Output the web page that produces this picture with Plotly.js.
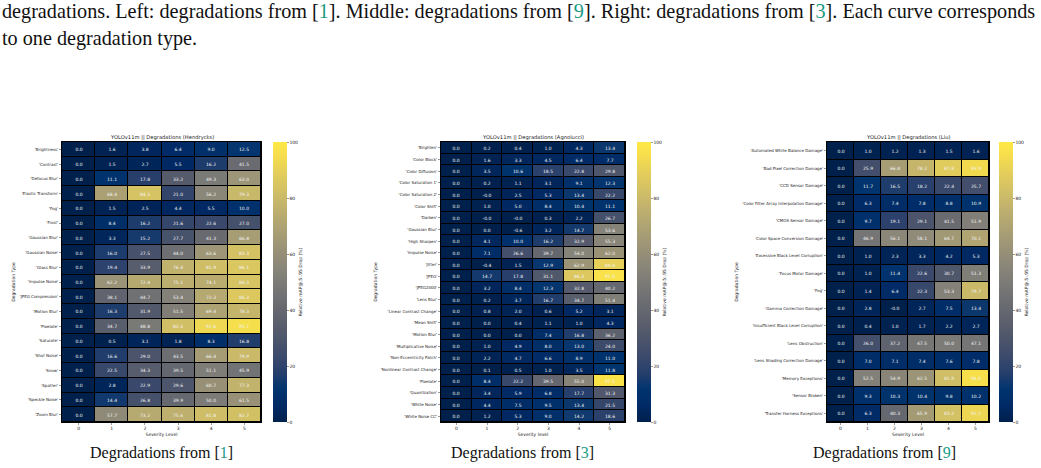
<!DOCTYPE html>
<html>
<head>
<meta charset="utf-8">
<script src="https://cdn.plot.ly/plotly-3.0.1.min.js"></script>
<style>
  html, body { margin: 0; padding: 0; background: #fff; }
  #chart { width: 1041px; height: 468px; }
</style>
</head>
<body>
<div id="chart"></div>
<script>
// Severity levels shared by all three panels
const severity = [0, 1, 2, 3, 4, 5];

// Hendrycks degradations: relative mAP@.5:.95 drop (%) per severity level
const hendrycksTypes = ["'Brightness'", "'Contrast'", "'Defocus Blur'", "'Elastic Transform'", "'Fog'",
  "'Frost'", "'Gaussian Blur'", "'Gaussian Noise'", "'Glass Blur'", "'Impulse Noise'",
  "'JPEG Compression'", "'Motion Blur'", "'Pixelate'", "'Saturate'", "'Shot Noise'",
  "'Snow'", "'Spatter'", "'Speckle Noise'", "'Zoom Blur'"];
const hendrycksDrop = [
  [0.0, 1.6, 3.8, 6.4, 9.0, 12.5],
  [0.0, 1.5, 2.7, 5.5, 16.2, 41.5],
  [0.0, 11.1, 17.8, 33.2, 49.3, 63.0],
  [0.0, 68.4, 84.3, 21.0, 56.2, 79.3],
  [0.0, 1.5, 2.5, 4.4, 5.5, 10.0],
  [0.0, 8.4, 16.2, 21.6, 22.6, 27.0],
  [0.0, 3.3, 15.2, 27.7, 41.3, 66.8],
  [0.0, 16.0, 27.5, 44.0, 63.6, 83.3],
  [0.0, 19.4, 33.9, 76.4, 81.9, 86.1],
  [0.0, 62.2, 72.4, 75.1, 74.1, 84.3],
  [0.0, 38.1, 44.7, 53.4, 72.3, 86.3],
  [0.0, 16.3, 31.9, 51.5, 69.4, 78.3],
  [0.0, 34.7, 48.8, 82.3, 92.6, 95.7],
  [0.0, 0.5, 3.1, 1.8, 8.3, 16.8],
  [0.0, 16.6, 29.0, 43.5, 66.4, 79.9],
  [0.0, 22.5, 34.3, 39.5, 51.1, 45.9],
  [0.0, 2.8, 22.9, 29.6, 60.7, 77.3],
  [0.0, 14.4, 26.8, 39.9, 50.0, 61.5],
  [0.0, 57.7, 73.2, 75.6, 81.8, 82.7]
];

// Agnolucci degradations
const agnolucciTypes = ["'Brighten'", "'Color Block'", "'Color Diffusion'", "'Color Saturation 1'",
  "'Color Saturation 2'", "'Color Shift'", "'Darken'", "'Gaussian Blur'", "'High Sharpen'",
  "'Impulse Noise'", "'Jitter'", "'JPEG'", "'JPEG2000'", "'Lens Blur'", "'Linear Contrast Change'",
  "'Mean Shift'", "'Motion Blur'", "'Multiplicative Noise'", "'Non-Eccentricity Patch'",
  "'Nonlinear Contrast Change'", "'Pixelate'", "'Quantization'", "'White Noise'", "'White Noise CC'"];
const agnolucciDrop = [
  [0.0, 0.2, 0.4, 1.0, 4.3, 13.4],
  [0.0, 1.6, 3.3, 4.5, 6.4, 7.7],
  [0.0, 3.5, 10.6, 18.5, 22.8, 29.8],
  [0.0, 0.2, 1.1, 3.1, 9.1, 12.3],
  [0.0, -0.0, 2.5, 5.3, 13.4, 22.2],
  [0.0, 1.0, 5.0, 8.4, 10.4, 11.1],
  [0.0, -0.0, -0.0, 0.3, 2.2, 26.7],
  [0.0, 0.0, -0.6, 3.2, 14.7, 53.6],
  [0.0, 4.1, 10.0, 16.2, 32.9, 55.3],
  [0.0, 7.1, 26.6, 39.7, 54.0, 62.0],
  [0.0, -0.4, 1.5, 12.9, 62.9, 89.8],
  [0.0, 14.7, 17.8, 31.1, 86.3, 97.0],
  [0.0, 3.2, 8.4, 12.3, 32.8, 40.2],
  [0.0, 0.2, 3.7, 16.7, 34.7, 51.4],
  [0.0, 0.8, 2.0, 0.6, 5.2, 3.1],
  [0.0, 0.0, 0.4, 1.1, 1.0, 4.3],
  [0.0, 0.0, 0.0, 7.4, 16.8, 36.2],
  [0.0, 1.0, 4.9, 8.0, 13.0, 24.0],
  [0.0, 2.2, 4.7, 6.6, 8.9, 11.0],
  [0.0, 0.1, 0.5, 1.0, 3.5, 11.8],
  [0.0, 8.4, 22.2, 39.5, 55.0, 97.5],
  [0.0, 3.4, 5.9, 6.8, 17.7, 31.3],
  [0.0, 4.4, 7.5, 9.5, 13.4, 21.5],
  [0.0, 1.2, 5.3, 9.0, 14.2, 18.6]
];

// Liu degradations
const liuTypes = ["'Automated White Balance Damage'", "'Bad Pixel Correction Damage'",
  "'CCD Sensor Damage'", "'Color Filter Array Interpolation Damage'", "'CMOS Sensor Damage'",
  "'Color Space Conversion Damage'", "'Excessive Black Level Corruption'", "'Focus Motor Damage'",
  "'Fog'", "'Gamma Correction Damage'", "'Insufficient Black Level Corruption'",
  "'Lens Obstruction'", "'Lens Shading Correction Damage'", "'Memory Exceptions'",
  "'Sensor Broken'", "'Transfer Harness Exceptions'"];
const liuDrop = [
  [0.0, 1.0, 1.2, 1.3, 1.5, 1.6],
  [0.0, 25.9, 66.8, 78.2, 87.8, 93.9],
  [0.0, 11.7, 16.5, 18.2, 22.4, 25.7],
  [0.0, 6.3, 7.4, 7.8, 8.8, 10.9],
  [0.0, 9.7, 19.1, 29.1, 41.5, 51.9],
  [0.0, 46.9, 56.1, 58.1, 64.7, 70.1],
  [0.0, 1.0, 2.3, 3.3, 4.2, 5.3],
  [0.0, 1.0, 11.4, 22.6, 30.7, 51.3],
  [0.0, 1.4, 6.4, 22.3, 53.3, 79.7],
  [0.0, 2.8, -0.0, 2.7, 7.5, 13.4],
  [0.0, 0.4, 1.0, 1.7, 2.2, 2.7],
  [0.0, 26.0, 37.2, 47.5, 50.0, 47.1],
  [0.0, 7.0, 7.1, 7.4, 7.6, 7.8],
  [0.0, 52.5, 54.9, 62.5, 81.9, 96.0],
  [0.0, 9.3, 10.3, 10.4, 9.8, 10.2],
  [0.0, 6.3, 40.3, 65.9, 83.2, 92.1]
];

const panelTitles = ['YOLOv11m || Degradations (Hendrycks)', 'YOLOv11m || Degradations (Agnolucci)', 'YOLOv11m || Degradations (Liu)'];
const xTitles = ['Severity Level', 'Severity level', 'Severity Level'];
const captionRefs = ['1', '3', '9'];

const W = 1041, H = 468;
const px = v => v / W;
const py = v => 1 - v / H;
const SANS = 'DejaVu Sans, sans-serif';
const SERIF = 'Liberation Serif, Times New Roman, serif';
const TEAL = '#1a9a82';

// keep the sign of negative zero in the cell labels
const fmt = v => ((v < 0 || Object.is(v, -0)) ? '-' : '') + Math.abs(v).toFixed(1);

// pixel geometry of each panel: heatmap left/right edges, colorbar left edge
const panels = [
  { types: hendrycksTypes, drop: hendrycksDrop, x0: 62, x1: 261, cb: 273 },
  { types: agnolucciTypes, drop: agnolucciDrop, x0: 441, x1: 625, cb: 637 },
  { types: liuTypes, drop: liuDrop, x0: 827, x1: 989, cb: 999 }
];
const TOP = 142, BOTTOM = 422;

const data = [];
const layout = {
  width: W, height: H,
  margin: { l: 0, r: 0, t: 0, b: 0 },
  paper_bgcolor: '#ffffff',
  plot_bgcolor: '#000000',
  showlegend: false,
  font: { family: SANS, color: '#222' },
  annotations: []
};

panels.forEach((p, i) => {
  const s = i === 0 ? '' : String(i + 1);
  data.push({
    type: 'heatmap',
    x: severity,
    y: p.types,
    z: p.drop,
    text: p.drop.map(row => row.map(fmt)),
    texttemplate: '%{text}',
    textfont: { family: SANS, size: 4.5, color: '#f4f4f4' },
    colorscale: 'Cividis',
    zmin: 0, zmax: 100,
    xgap: 1, ygap: 1,
    hoverinfo: 'skip',
    xaxis: 'x' + s, yaxis: 'y' + s,
    colorbar: {
      thickness: 14, thicknessmode: 'pixels',
      len: BOTTOM - TOP, lenmode: 'pixels',
      x: px(p.cb), xanchor: 'left', xref: 'paper', xpad: 0,
      y: py(TOP), yanchor: 'top', yref: 'paper', ypad: 0,
      outlinewidth: 0,
      tickvals: [0, 20, 40, 60, 80, 100],
      ticks: 'outside', ticklen: 2, tickwidth: 0.5, tickcolor: '#333',
      tickfont: { family: SANS, size: 4.5, color: '#222' },
      title: { text: 'Relative mAP@.5:.95 Drop (%)', side: 'right', font: { family: SANS, size: 4.5, color: '#222' } }
    }
  });

  layout['xaxis' + s] = {
    domain: [px(p.x0), px(p.x1)],
    anchor: 'y' + s,
    range: [-0.5, 5.5],
    tickmode: 'array', tickvals: severity, ticktext: severity.map(String),
    ticks: 'outside', ticklen: 2, tickwidth: 0.5, tickcolor: '#333',
    tickfont: { family: SANS, size: 4.5, color: '#222' },
    showgrid: false, zeroline: false,
    showline: true, linecolor: '#000', linewidth: 1, mirror: true,
    automargin: false, fixedrange: true,
    title: { text: xTitles[i], font: { family: SANS, size: 4.5, color: '#222' }, standoff: 2 }
  };
  layout['yaxis' + s] = {
    domain: [py(BOTTOM), py(TOP)],
    anchor: 'x' + s,
    type: 'category',
    autorange: 'reversed',
    tickmode: 'array', tickvals: p.types, ticktext: p.types,
    ticks: 'outside', ticklen: 2, tickwidth: 0.5, tickcolor: '#333',
    tickfont: { family: SANS, size: 4, color: '#222' },
    showgrid: false, zeroline: false,
    showline: true, linecolor: '#000', linewidth: 1, mirror: true,
    automargin: false, fixedrange: true,
    title: { text: 'Degradation Type', font: { family: SANS, size: 4.5, color: '#222' }, standoff: 3 }
  };

  // panel heading
  layout.annotations.push({
    xref: 'paper', yref: 'paper',
    x: px((p.x0 + p.x1) / 2), y: py(137),
    xanchor: 'center', yanchor: 'middle',
    text: panelTitles[i], showarrow: false,
    font: { family: SANS, size: 5.2, color: '#222' }
  });
});

// sub-figure captions
const captionCenters = [161, 522, 884];
captionCenters.forEach((cx, i) => {
  layout.annotations.push({
    xref: 'paper', yref: 'paper',
    x: px(cx), y: py(453),
    xanchor: 'center', yanchor: 'middle',
    text: 'Degradations from [<span style="color:' + TEAL + '">' + captionRefs[i] + '</span>]',
    showarrow: false,
    font: { family: SERIF, size: 16, color: '#111' }
  });
});

// running caption text above the figure
layout.annotations.push({
  xref: 'paper', yref: 'paper', x: 0, y: py(11),
  xanchor: 'left', yanchor: 'middle', showarrow: false,
  text: 'degradations. Left: degradations from [<span style="color:' + TEAL + '">1</span>]. Middle: degradations from [<span style="color:' + TEAL + '">9</span>]. Right: degradations from [<span style="color:' + TEAL + '">3</span>]. Each curve corresponds',
  font: { family: SERIF, size: 20.2, color: '#111' }
});
layout.annotations.push({
  xref: 'paper', yref: 'paper', x: 0, y: py(38),
  xanchor: 'left', yanchor: 'middle', showarrow: false,
  text: 'to one degradation type.',
  font: { family: SERIF, size: 20.2, color: '#111' }
});

Plotly.newPlot('chart', data, layout, { staticPlot: true, displayModeBar: false });
</script>
</body>
</html>
